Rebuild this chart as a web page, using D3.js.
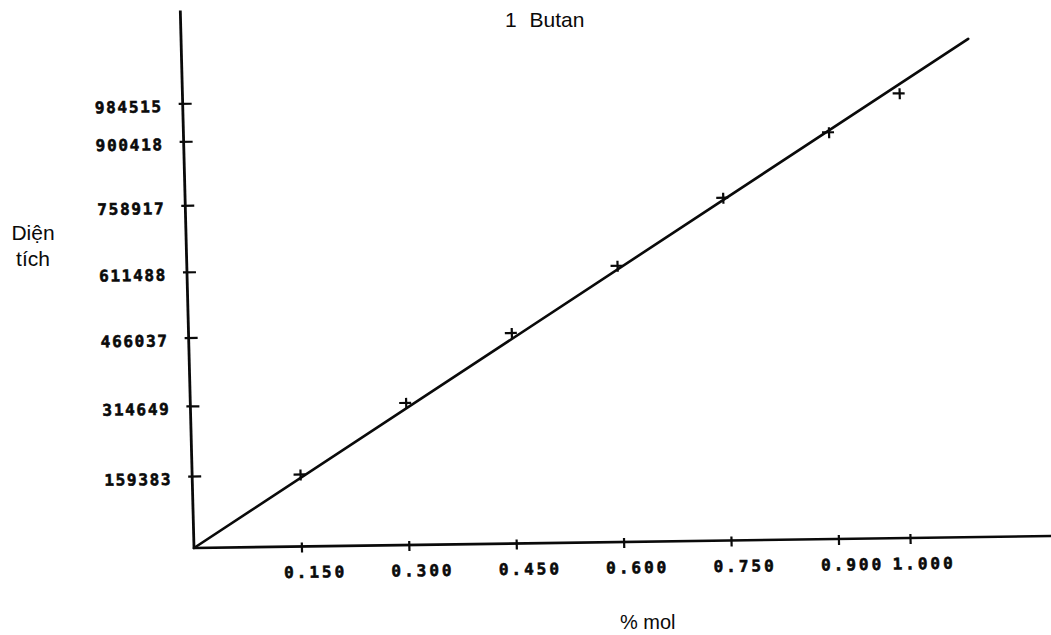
<!DOCTYPE html>
<html>
<head>
<meta charset="utf-8">
<script src="https://cdn.jsdelivr.net/npm/d3@7"></script>
<style>
  html, body { margin: 0; padding: 0; background: #fff; }
  svg { display: block; }
</style>
</head>
<body>
<svg id="chart" width="1051" height="635"></svg>
<script>
// Calibration data for 1-butane: mole fraction vs. peak area
const molFractions = [0.150, 0.300, 0.450, 0.600, 0.750, 0.900, 1.000];
const peakAreas    = [159383, 314649, 466037, 611488, 758917, 900418, 984515];
const xTickValues  = [0.150, 0.300, 0.450, 0.600, 0.750, 0.900, 1.000];
const yTickValues  = [159383, 314649, 466037, 611488, 758917, 900418, 984515];
const titleText = "1 Butan";
const xTitle = "% mol";
const yTitleLines = ["Diện", "tích"];

const svg = d3.select("#chart");
const W = 1051, H = 635;
svg.append("rect").attr("width", W).attr("height", H).attr("fill", "#fff");

const x = d3.scaleLinear().domain([0, 1]).range([0, 716]);
const y = d3.scaleLinear().domain([0, 1e6]).range([0, -451.6]);

// The plotter's axes are slightly out of square; a skew matrix reproduces it.
const plot = svg.append("g")
  .attr("transform", "matrix(1,-0.014,0.0255,1,194,548)");

const ink = "#0a0a0a";
const mono = "'DejaVu Sans Mono', monospace";

// Axis lines
plot.append("line")
  .attr("x1", 0).attr("y1", 1).attr("x2", 0).attr("y2", y(1.19e6))
  .attr("stroke", ink).attr("stroke-width", 2.8);
plot.append("line")
  .attr("x1", -1).attr("y1", 0).attr("x2", x(1.22)).attr("y2", 0)
  .attr("stroke", ink).attr("stroke-width", 2.6);

// Y axis ticks and labels
const yAxis = plot.append("g")
  .call(d3.axisLeft(y).tickValues(yTickValues).tickFormat(d3.format("d")).tickSizeOuter(0));
yAxis.select(".domain").remove();
yAxis.selectAll(".tick line")
  .attr("x1", -4).attr("x2", 9)
  .attr("stroke", ink).attr("stroke-width", 2.2);
yAxis.selectAll(".tick text")
  .attr("x", -20).attr("dy", "0.5em")
  .attr("fill", ink).attr("stroke", ink).attr("stroke-width", 0.6)
  .style("font-family", mono)
  .style("font-weight", "bold")
  .style("font-size", "16px")
  .style("letter-spacing", "1.7px");

// X axis ticks and labels
const xAxis = plot.append("g")
  .call(d3.axisBottom(x).tickValues(xTickValues).tickFormat(d3.format(".3f")).tickSizeOuter(0));
xAxis.select(".domain").remove();
xAxis.selectAll(".tick line")
  .attr("y1", -4).attr("y2", 6)
  .attr("stroke", ink).attr("stroke-width", 2.2);
xAxis.selectAll(".tick text")
  .attr("y", 20).attr("dx", 13).attr("dy", "0.71em")
  .attr("fill", ink).attr("stroke", ink).attr("stroke-width", 0.6)
  .style("font-family", mono)
  .style("font-weight", "bold")
  .style("font-size", "16px")
  .style("letter-spacing", "3px");

// Least-squares line through the origin
const points = molFractions.map((m, i) => ({ m, a: peakAreas[i] }));
const slope = d3.sum(points, p => p.m * p.a) / d3.sum(points, p => p.m * p.m);
const fitX = [0, 1.099];
plot.append("path")
  .datum(fitX.map(v => [v, slope * v]))
  .attr("d", d3.line().x(d => x(d[0])).y(d => y(d[1])))
  .attr("fill", "none").attr("stroke", ink).attr("stroke-width", 2.6)
  .attr("stroke-linecap", "round");

// Measured points as plus markers
const marks = plot.append("g").selectAll("g").data(points).join("g")
  .attr("transform", d => `translate(${x(d.m)},${y(d.a)})`);
marks.append("line").attr("x1", -6).attr("x2", 6).attr("y1", 0).attr("y2", 0)
  .attr("stroke", ink).attr("stroke-width", 2.2);
marks.append("line").attr("x1", 1).attr("x2", 1).attr("y1", -5).attr("y2", 6)
  .attr("stroke", ink).attr("stroke-width", 2.2);

// Titles
const sans = "'Liberation Sans', Arial, sans-serif";
svg.append("text")
  .attr("x", 505).attr("y", 27).attr("text-anchor", "start")
  .style("font-family", sans).style("font-size", "21px")
  .style("word-spacing", "7px").attr("fill", ink)
  .text(titleText);
svg.append("text")
  .attr("x", 620).attr("y", 629).attr("text-anchor", "start")
  .style("font-family", sans).style("font-size", "20px").attr("fill", ink)
  .text(xTitle);
svg.append("text")
  .attr("x", 33).attr("y", 240).attr("text-anchor", "middle")
  .style("font-family", sans).style("font-size", "21px").attr("fill", ink)
  .selectAll("tspan").data(yTitleLines).join("tspan")
  .attr("x", 33).attr("dy", (d, i) => i === 0 ? 0 : 26)
  .text(d => d);
</script>
</body>
</html>
